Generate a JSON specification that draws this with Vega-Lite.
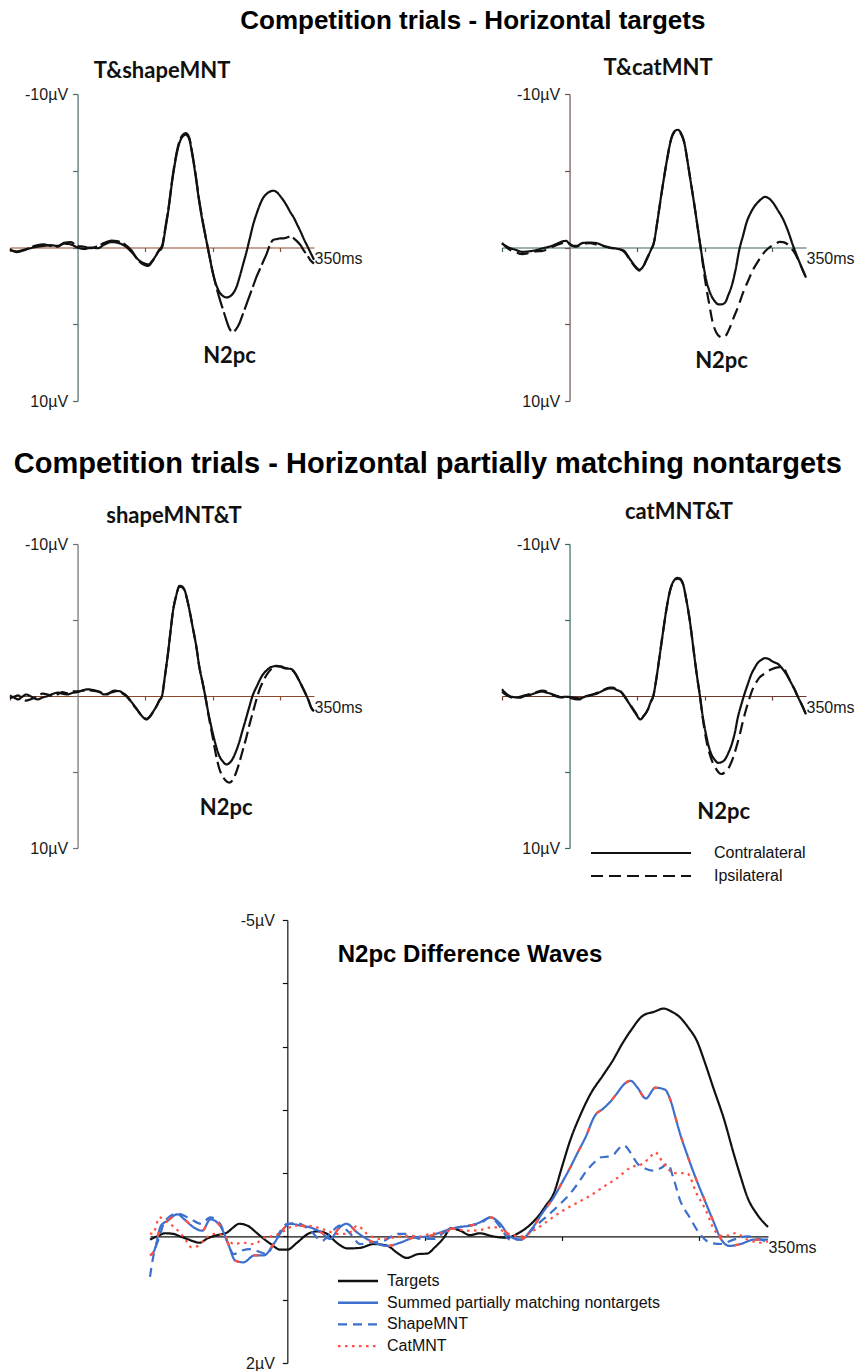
{
"$schema": "https://vega.github.io/schema/vega-lite/v6.json",
"background": "white",
"padding": {"left": 5, "top": 7, "right": 4, "bottom": 4},
"config": {
  "view": {"stroke": null},
  "axis": {"grid": false, "labelFont": "Liberation Sans", "labelFontSize": 16, "labelColor": "#1a1a1a", "domainWidth": 1.2, "tickWidth": 1.2, "labelOverlap": false, "labelFlush": false, "labelLimit": 200}
},
"datasets": {
"erp": [
{"panel":"p1","side":"Contralateral","t":-100,"v":0.15},{"panel":"p1","side":"Contralateral","t":-90,"v":0.25},{"panel":"p1","side":"Contralateral","t":-80,"v":0.15},{"panel":"p1","side":"Contralateral","t":-70,"v":0.05},{"panel":"p1","side":"Contralateral","t":-60,"v":-0.05},{"panel":"p1","side":"Contralateral","t":-50,"v":-0.1},{"panel":"p1","side":"Contralateral","t":-40,"v":-0.15},{"panel":"p1","side":"Contralateral","t":-30,"v":-0.1},{"panel":"p1","side":"Contralateral","t":-20,"v":-0.25},{"panel":"p1","side":"Contralateral","t":-10,"v":-0.2},{"panel":"p1","side":"Contralateral","t":0,"v":0.0},{"panel":"p1","side":"Contralateral","t":10,"v":0.1},{"panel":"p1","side":"Contralateral","t":20,"v":0.0},{"panel":"p1","side":"Contralateral","t":30,"v":0.05},{"panel":"p1","side":"Contralateral","t":40,"v":-0.2},{"panel":"p1","side":"Contralateral","t":50,"v":-0.35},{"panel":"p1","side":"Contralateral","t":60,"v":-0.3},{"panel":"p1","side":"Contralateral","t":70,"v":-0.1},{"panel":"p1","side":"Contralateral","t":80,"v":0.3},{"panel":"p1","side":"Contralateral","t":90,"v":0.8},{"panel":"p1","side":"Contralateral","t":100,"v":1.05},{"panel":"p1","side":"Contralateral","t":105,"v":1.1},{"panel":"p1","side":"Contralateral","t":110,"v":0.9},{"panel":"p1","side":"Contralateral","t":115,"v":0.6},{"panel":"p1","side":"Contralateral","t":120,"v":0.25},{"panel":"p1","side":"Contralateral","t":125,"v":0.0},{"panel":"p1","side":"Contralateral","t":130,"v":-1.2},{"panel":"p1","side":"Contralateral","t":135,"v":-2.6},{"panel":"p1","side":"Contralateral","t":140,"v":-4.3},{"panel":"p1","side":"Contralateral","t":145,"v":-5.7},{"panel":"p1","side":"Contralateral","t":150,"v":-6.7},{"panel":"p1","side":"Contralateral","t":155,"v":-7.2},{"panel":"p1","side":"Contralateral","t":160,"v":-7.35},{"panel":"p1","side":"Contralateral","t":165,"v":-7.1},{"panel":"p1","side":"Contralateral","t":170,"v":-6.0},{"panel":"p1","side":"Contralateral","t":175,"v":-4.6},{"panel":"p1","side":"Contralateral","t":180,"v":-3.0},{"panel":"p1","side":"Contralateral","t":185,"v":-1.7},{"panel":"p1","side":"Contralateral","t":190,"v":-0.6},{"panel":"p1","side":"Contralateral","t":195,"v":0.5},{"panel":"p1","side":"Contralateral","t":200,"v":1.6},{"panel":"p1","side":"Contralateral","t":205,"v":2.4},{"panel":"p1","side":"Contralateral","t":210,"v":2.9},{"panel":"p1","side":"Contralateral","t":215,"v":3.15},{"panel":"p1","side":"Contralateral","t":220,"v":3.25},{"panel":"p1","side":"Contralateral","t":225,"v":3.2},{"panel":"p1","side":"Contralateral","t":230,"v":3.0},{"panel":"p1","side":"Contralateral","t":235,"v":2.6},{"panel":"p1","side":"Contralateral","t":240,"v":1.9},{"panel":"p1","side":"Contralateral","t":245,"v":1.1},{"panel":"p1","side":"Contralateral","t":250,"v":0.3},{"panel":"p1","side":"Contralateral","t":255,"v":-0.6},{"panel":"p1","side":"Contralateral","t":260,"v":-1.5},{"panel":"p1","side":"Contralateral","t":265,"v":-2.2},{"panel":"p1","side":"Contralateral","t":270,"v":-2.8},{"panel":"p1","side":"Contralateral","t":275,"v":-3.25},{"panel":"p1","side":"Contralateral","t":280,"v":-3.5},{"panel":"p1","side":"Contralateral","t":285,"v":-3.65},{"panel":"p1","side":"Contralateral","t":290,"v":-3.7},{"panel":"p1","side":"Contralateral","t":295,"v":-3.6},{"panel":"p1","side":"Contralateral","t":300,"v":-3.35},{"panel":"p1","side":"Contralateral","t":305,"v":-3.05},{"panel":"p1","side":"Contralateral","t":310,"v":-2.7},{"panel":"p1","side":"Contralateral","t":315,"v":-2.3},{"panel":"p1","side":"Contralateral","t":320,"v":-1.95},{"panel":"p1","side":"Contralateral","t":325,"v":-1.5},{"panel":"p1","side":"Contralateral","t":330,"v":-1.05},{"panel":"p1","side":"Contralateral","t":335,"v":-0.55},{"panel":"p1","side":"Contralateral","t":340,"v":-0.1},{"panel":"p1","side":"Contralateral","t":345,"v":0.35},{"panel":"p1","side":"Contralateral","t":350,"v":0.8},
{"panel":"p1","side":"Ipsilateral","t":-100,"v":0.1},{"panel":"p1","side":"Ipsilateral","t":-90,"v":0.3},{"panel":"p1","side":"Ipsilateral","t":-80,"v":0.2},{"panel":"p1","side":"Ipsilateral","t":-70,"v":0.0},{"panel":"p1","side":"Ipsilateral","t":-60,"v":-0.15},{"panel":"p1","side":"Ipsilateral","t":-50,"v":-0.2},{"panel":"p1","side":"Ipsilateral","t":-40,"v":-0.1},{"panel":"p1","side":"Ipsilateral","t":-30,"v":-0.05},{"panel":"p1","side":"Ipsilateral","t":-20,"v":-0.3},{"panel":"p1","side":"Ipsilateral","t":-10,"v":-0.35},{"panel":"p1","side":"Ipsilateral","t":0,"v":-0.1},{"panel":"p1","side":"Ipsilateral","t":10,"v":-0.05},{"panel":"p1","side":"Ipsilateral","t":20,"v":0.05},{"panel":"p1","side":"Ipsilateral","t":30,"v":-0.1},{"panel":"p1","side":"Ipsilateral","t":40,"v":-0.3},{"panel":"p1","side":"Ipsilateral","t":50,"v":-0.45},{"panel":"p1","side":"Ipsilateral","t":60,"v":-0.4},{"panel":"p1","side":"Ipsilateral","t":70,"v":-0.2},{"panel":"p1","side":"Ipsilateral","t":80,"v":0.2},{"panel":"p1","side":"Ipsilateral","t":90,"v":0.85},{"panel":"p1","side":"Ipsilateral","t":100,"v":1.15},{"panel":"p1","side":"Ipsilateral","t":105,"v":1.2},{"panel":"p1","side":"Ipsilateral","t":110,"v":0.95},{"panel":"p1","side":"Ipsilateral","t":115,"v":0.6},{"panel":"p1","side":"Ipsilateral","t":120,"v":0.2},{"panel":"p1","side":"Ipsilateral","t":125,"v":-0.1},{"panel":"p1","side":"Ipsilateral","t":130,"v":-1.3},{"panel":"p1","side":"Ipsilateral","t":135,"v":-2.7},{"panel":"p1","side":"Ipsilateral","t":140,"v":-4.4},{"panel":"p1","side":"Ipsilateral","t":145,"v":-5.8},{"panel":"p1","side":"Ipsilateral","t":150,"v":-6.8},{"panel":"p1","side":"Ipsilateral","t":155,"v":-7.3},{"panel":"p1","side":"Ipsilateral","t":160,"v":-7.45},{"panel":"p1","side":"Ipsilateral","t":165,"v":-7.2},{"panel":"p1","side":"Ipsilateral","t":170,"v":-6.1},{"panel":"p1","side":"Ipsilateral","t":175,"v":-4.7},{"panel":"p1","side":"Ipsilateral","t":180,"v":-3.1},{"panel":"p1","side":"Ipsilateral","t":185,"v":-1.8},{"panel":"p1","side":"Ipsilateral","t":190,"v":-0.6},{"panel":"p1","side":"Ipsilateral","t":195,"v":0.5},{"panel":"p1","side":"Ipsilateral","t":200,"v":1.6},{"panel":"p1","side":"Ipsilateral","t":205,"v":2.5},{"panel":"p1","side":"Ipsilateral","t":210,"v":3.3},{"panel":"p1","side":"Ipsilateral","t":215,"v":4.0},{"panel":"p1","side":"Ipsilateral","t":220,"v":4.7},{"panel":"p1","side":"Ipsilateral","t":225,"v":5.3},{"panel":"p1","side":"Ipsilateral","t":230,"v":5.5},{"panel":"p1","side":"Ipsilateral","t":235,"v":5.3},{"panel":"p1","side":"Ipsilateral","t":240,"v":4.9},{"panel":"p1","side":"Ipsilateral","t":245,"v":4.3},{"panel":"p1","side":"Ipsilateral","t":250,"v":3.7},{"panel":"p1","side":"Ipsilateral","t":255,"v":3.1},{"panel":"p1","side":"Ipsilateral","t":260,"v":2.5},{"panel":"p1","side":"Ipsilateral","t":265,"v":1.9},{"panel":"p1","side":"Ipsilateral","t":270,"v":1.4},{"panel":"p1","side":"Ipsilateral","t":275,"v":0.9},{"panel":"p1","side":"Ipsilateral","t":280,"v":0.4},{"panel":"p1","side":"Ipsilateral","t":285,"v":-0.2},{"panel":"p1","side":"Ipsilateral","t":290,"v":-0.5},{"panel":"p1","side":"Ipsilateral","t":295,"v":-0.55},{"panel":"p1","side":"Ipsilateral","t":300,"v":-0.6},{"panel":"p1","side":"Ipsilateral","t":305,"v":-0.6},{"panel":"p1","side":"Ipsilateral","t":310,"v":-0.65},{"panel":"p1","side":"Ipsilateral","t":315,"v":-0.72},{"panel":"p1","side":"Ipsilateral","t":320,"v":-0.6},{"panel":"p1","side":"Ipsilateral","t":325,"v":-0.4},{"panel":"p1","side":"Ipsilateral","t":330,"v":-0.15},{"panel":"p1","side":"Ipsilateral","t":335,"v":0.2},{"panel":"p1","side":"Ipsilateral","t":340,"v":0.5},{"panel":"p1","side":"Ipsilateral","t":345,"v":0.85},{"panel":"p1","side":"Ipsilateral","t":350,"v":1.05},
{"panel":"p2","side":"Contralateral","t":-100,"v":-0.26},{"panel":"p2","side":"Contralateral","t":-90,"v":0.0},{"panel":"p2","side":"Contralateral","t":-80,"v":0.15},{"panel":"p2","side":"Contralateral","t":-70,"v":0.28},{"panel":"p2","side":"Contralateral","t":-60,"v":0.25},{"panel":"p2","side":"Contralateral","t":-50,"v":0.18},{"panel":"p2","side":"Contralateral","t":-40,"v":0.05},{"panel":"p2","side":"Contralateral","t":-30,"v":-0.05},{"panel":"p2","side":"Contralateral","t":-20,"v":-0.22},{"panel":"p2","side":"Contralateral","t":-10,"v":-0.4},{"panel":"p2","side":"Contralateral","t":-5,"v":-0.43},{"panel":"p2","side":"Contralateral","t":0,"v":-0.22},{"panel":"p2","side":"Contralateral","t":5,"v":-0.1},{"panel":"p2","side":"Contralateral","t":10,"v":-0.1},{"panel":"p2","side":"Contralateral","t":20,"v":-0.3},{"panel":"p2","side":"Contralateral","t":30,"v":-0.32},{"panel":"p2","side":"Contralateral","t":40,"v":-0.28},{"panel":"p2","side":"Contralateral","t":50,"v":-0.12},{"panel":"p2","side":"Contralateral","t":60,"v":0.0},{"panel":"p2","side":"Contralateral","t":70,"v":0.08},{"panel":"p2","side":"Contralateral","t":80,"v":0.2},{"panel":"p2","side":"Contralateral","t":90,"v":0.8},{"panel":"p2","side":"Contralateral","t":100,"v":1.35},{"panel":"p2","side":"Contralateral","t":103,"v":1.45},{"panel":"p2","side":"Contralateral","t":108,"v":1.3},{"panel":"p2","side":"Contralateral","t":114,"v":0.76},{"panel":"p2","side":"Contralateral","t":120,"v":0.2},{"panel":"p2","side":"Contralateral","t":125,"v":-0.35},{"panel":"p2","side":"Contralateral","t":130,"v":-1.7},{"panel":"p2","side":"Contralateral","t":135,"v":-3.2},{"panel":"p2","side":"Contralateral","t":140,"v":-4.6},{"panel":"p2","side":"Contralateral","t":145,"v":-5.9},{"panel":"p2","side":"Contralateral","t":150,"v":-7.0},{"panel":"p2","side":"Contralateral","t":155,"v":-7.55},{"panel":"p2","side":"Contralateral","t":160,"v":-7.67},{"panel":"p2","side":"Contralateral","t":165,"v":-7.45},{"panel":"p2","side":"Contralateral","t":170,"v":-6.8},{"panel":"p2","side":"Contralateral","t":175,"v":-5.5},{"panel":"p2","side":"Contralateral","t":180,"v":-4.1},{"panel":"p2","side":"Contralateral","t":185,"v":-2.7},{"panel":"p2","side":"Contralateral","t":190,"v":-1.2},{"panel":"p2","side":"Contralateral","t":194,"v":0.0},{"panel":"p2","side":"Contralateral","t":198,"v":1.1},{"panel":"p2","side":"Contralateral","t":202,"v":2.07},{"panel":"p2","side":"Contralateral","t":206,"v":2.7},{"panel":"p2","side":"Contralateral","t":210,"v":3.15},{"panel":"p2","side":"Contralateral","t":215,"v":3.5},{"panel":"p2","side":"Contralateral","t":220,"v":3.7},{"panel":"p2","side":"Contralateral","t":225,"v":3.7},{"panel":"p2","side":"Contralateral","t":230,"v":3.6},{"panel":"p2","side":"Contralateral","t":235,"v":3.1},{"panel":"p2","side":"Contralateral","t":240,"v":2.5},{"panel":"p2","side":"Contralateral","t":245,"v":1.6},{"panel":"p2","side":"Contralateral","t":252,"v":0.0},{"panel":"p2","side":"Contralateral","t":257,"v":-0.8},{"panel":"p2","side":"Contralateral","t":262,"v":-1.63},{"panel":"p2","side":"Contralateral","t":268,"v":-2.25},{"panel":"p2","side":"Contralateral","t":274,"v":-2.7},{"panel":"p2","side":"Contralateral","t":280,"v":-3.0},{"panel":"p2","side":"Contralateral","t":285,"v":-3.2},{"panel":"p2","side":"Contralateral","t":289,"v":-3.3},{"panel":"p2","side":"Contralateral","t":295,"v":-3.2},{"panel":"p2","side":"Contralateral","t":301,"v":-2.93},{"panel":"p2","side":"Contralateral","t":308,"v":-2.45},{"panel":"p2","side":"Contralateral","t":316,"v":-1.85},{"panel":"p2","side":"Contralateral","t":324,"v":-1.0},{"panel":"p2","side":"Contralateral","t":331,"v":-0.1},{"panel":"p2","side":"Contralateral","t":338,"v":0.7},{"panel":"p2","side":"Contralateral","t":344,"v":1.35},{"panel":"p2","side":"Contralateral","t":350,"v":1.96},
{"panel":"p2","side":"Ipsilateral","t":-100,"v":-0.3},{"panel":"p2","side":"Ipsilateral","t":-90,"v":0.1},{"panel":"p2","side":"Ipsilateral","t":-80,"v":0.3},{"panel":"p2","side":"Ipsilateral","t":-70,"v":0.43},{"panel":"p2","side":"Ipsilateral","t":-60,"v":0.35},{"panel":"p2","side":"Ipsilateral","t":-50,"v":0.25},{"panel":"p2","side":"Ipsilateral","t":-40,"v":0.22},{"panel":"p2","side":"Ipsilateral","t":-30,"v":0.05},{"panel":"p2","side":"Ipsilateral","t":-20,"v":-0.15},{"panel":"p2","side":"Ipsilateral","t":-10,"v":-0.3},{"panel":"p2","side":"Ipsilateral","t":-5,"v":-0.35},{"panel":"p2","side":"Ipsilateral","t":0,"v":-0.25},{"panel":"p2","side":"Ipsilateral","t":5,"v":-0.1},{"panel":"p2","side":"Ipsilateral","t":10,"v":-0.05},{"panel":"p2","side":"Ipsilateral","t":20,"v":-0.25},{"panel":"p2","side":"Ipsilateral","t":30,"v":-0.28},{"panel":"p2","side":"Ipsilateral","t":40,"v":-0.2},{"panel":"p2","side":"Ipsilateral","t":50,"v":-0.08},{"panel":"p2","side":"Ipsilateral","t":60,"v":0.02},{"panel":"p2","side":"Ipsilateral","t":70,"v":0.1},{"panel":"p2","side":"Ipsilateral","t":80,"v":0.25},{"panel":"p2","side":"Ipsilateral","t":90,"v":0.85},{"panel":"p2","side":"Ipsilateral","t":100,"v":1.4},{"panel":"p2","side":"Ipsilateral","t":103,"v":1.5},{"panel":"p2","side":"Ipsilateral","t":108,"v":1.32},{"panel":"p2","side":"Ipsilateral","t":114,"v":0.8},{"panel":"p2","side":"Ipsilateral","t":120,"v":0.2},{"panel":"p2","side":"Ipsilateral","t":125,"v":-0.35},{"panel":"p2","side":"Ipsilateral","t":130,"v":-1.7},{"panel":"p2","side":"Ipsilateral","t":135,"v":-3.2},{"panel":"p2","side":"Ipsilateral","t":140,"v":-4.6},{"panel":"p2","side":"Ipsilateral","t":145,"v":-5.9},{"panel":"p2","side":"Ipsilateral","t":150,"v":-7.0},{"panel":"p2","side":"Ipsilateral","t":155,"v":-7.5},{"panel":"p2","side":"Ipsilateral","t":160,"v":-7.6},{"panel":"p2","side":"Ipsilateral","t":165,"v":-7.4},{"panel":"p2","side":"Ipsilateral","t":170,"v":-6.8},{"panel":"p2","side":"Ipsilateral","t":175,"v":-5.5},{"panel":"p2","side":"Ipsilateral","t":180,"v":-4.1},{"panel":"p2","side":"Ipsilateral","t":185,"v":-2.7},{"panel":"p2","side":"Ipsilateral","t":190,"v":-1.2},{"panel":"p2","side":"Ipsilateral","t":194,"v":0.0},{"panel":"p2","side":"Ipsilateral","t":198,"v":1.3},{"panel":"p2","side":"Ipsilateral","t":202,"v":2.5},{"panel":"p2","side":"Ipsilateral","t":206,"v":3.5},{"panel":"p2","side":"Ipsilateral","t":212,"v":4.9},{"panel":"p2","side":"Ipsilateral","t":218,"v":5.6},{"panel":"p2","side":"Ipsilateral","t":222,"v":5.8},{"panel":"p2","side":"Ipsilateral","t":227,"v":5.87},{"panel":"p2","side":"Ipsilateral","t":232,"v":5.7},{"panel":"p2","side":"Ipsilateral","t":237,"v":5.25},{"panel":"p2","side":"Ipsilateral","t":242,"v":4.67},{"panel":"p2","side":"Ipsilateral","t":250,"v":3.8},{"panel":"p2","side":"Ipsilateral","t":257,"v":2.93},{"panel":"p2","side":"Ipsilateral","t":265,"v":2.1},{"panel":"p2","side":"Ipsilateral","t":272,"v":1.41},{"panel":"p2","side":"Ipsilateral","t":279,"v":0.9},{"panel":"p2","side":"Ipsilateral","t":286,"v":0.43},{"panel":"p2","side":"Ipsilateral","t":293,"v":0.1},{"panel":"p2","side":"Ipsilateral","t":299,"v":-0.1},{"panel":"p2","side":"Ipsilateral","t":305,"v":-0.25},{"panel":"p2","side":"Ipsilateral","t":311,"v":-0.37},{"panel":"p2","side":"Ipsilateral","t":316,"v":-0.35},{"panel":"p2","side":"Ipsilateral","t":321,"v":-0.26},{"panel":"p2","side":"Ipsilateral","t":327,"v":0.0},{"panel":"p2","side":"Ipsilateral","t":333,"v":0.33},{"panel":"p2","side":"Ipsilateral","t":340,"v":0.95},{"panel":"p2","side":"Ipsilateral","t":345,"v":1.45},{"panel":"p2","side":"Ipsilateral","t":350,"v":1.96},
{"panel":"p3","side":"Contralateral","t":-100,"v":-0.04},{"panel":"p3","side":"Contralateral","t":-94,"v":0.1},{"panel":"p3","side":"Contralateral","t":-88,"v":0.22},{"panel":"p3","side":"Contralateral","t":-82,"v":0.05},{"panel":"p3","side":"Contralateral","t":-76,"v":-0.1},{"panel":"p3","side":"Contralateral","t":-68,"v":0.05},{"panel":"p3","side":"Contralateral","t":-59,"v":0.22},{"panel":"p3","side":"Contralateral","t":-52,"v":0.1},{"panel":"p3","side":"Contralateral","t":-44,"v":0.0},{"panel":"p3","side":"Contralateral","t":-36,"v":-0.15},{"panel":"p3","side":"Contralateral","t":-29,"v":-0.22},{"panel":"p3","side":"Contralateral","t":-22,"v":-0.15},{"panel":"p3","side":"Contralateral","t":-15,"v":-0.1},{"panel":"p3","side":"Contralateral","t":-8,"v":-0.2},{"panel":"p3","side":"Contralateral","t":0,"v":-0.26},{"panel":"p3","side":"Contralateral","t":8,"v":-0.38},{"panel":"p3","side":"Contralateral","t":15,"v":-0.44},{"panel":"p3","side":"Contralateral","t":22,"v":-0.4},{"panel":"p3","side":"Contralateral","t":29,"v":-0.33},{"panel":"p3","side":"Contralateral","t":35,"v":-0.2},{"panel":"p3","side":"Contralateral","t":39,"v":-0.1},{"panel":"p3","side":"Contralateral","t":44,"v":-0.15},{"panel":"p3","side":"Contralateral","t":49,"v":-0.22},{"panel":"p3","side":"Contralateral","t":55,"v":-0.3},{"panel":"p3","side":"Contralateral","t":61,"v":-0.33},{"panel":"p3","side":"Contralateral","t":67,"v":-0.2},{"panel":"p3","side":"Contralateral","t":73,"v":0.0},{"panel":"p3","side":"Contralateral","t":80,"v":0.4},{"panel":"p3","side":"Contralateral","t":88,"v":0.88},{"panel":"p3","side":"Contralateral","t":95,"v":1.3},{"panel":"p3","side":"Contralateral","t":102,"v":1.54},{"panel":"p3","side":"Contralateral","t":108,"v":1.3},{"panel":"p3","side":"Contralateral","t":113,"v":0.95},{"panel":"p3","side":"Contralateral","t":117,"v":0.66},{"panel":"p3","side":"Contralateral","t":121,"v":0.3},{"panel":"p3","side":"Contralateral","t":125,"v":0.0},{"panel":"p3","side":"Contralateral","t":129,"v":-1.2},{"panel":"p3","side":"Contralateral","t":134,"v":-2.86},{"panel":"p3","side":"Contralateral","t":138,"v":-4.4},{"panel":"p3","side":"Contralateral","t":141,"v":-5.5},{"panel":"p3","side":"Contralateral","t":146,"v":-6.6},{"panel":"p3","side":"Contralateral","t":151,"v":-7.25},{"panel":"p3","side":"Contralateral","t":155,"v":-7.2},{"panel":"p3","side":"Contralateral","t":159,"v":-6.9},{"panel":"p3","side":"Contralateral","t":164,"v":-6.0},{"panel":"p3","side":"Contralateral","t":171,"v":-4.4},{"panel":"p3","side":"Contralateral","t":176,"v":-3.2},{"panel":"p3","side":"Contralateral","t":180,"v":-1.98},{"panel":"p3","side":"Contralateral","t":185,"v":-0.9},{"panel":"p3","side":"Contralateral","t":189,"v":0.0},{"panel":"p3","side":"Contralateral","t":194,"v":1.2},{"panel":"p3","side":"Contralateral","t":200,"v":2.42},{"panel":"p3","side":"Contralateral","t":205,"v":3.3},{"panel":"p3","side":"Contralateral","t":210,"v":3.96},{"panel":"p3","side":"Contralateral","t":215,"v":4.3},{"panel":"p3","side":"Contralateral","t":220,"v":4.5},{"panel":"p3","side":"Contralateral","t":225,"v":4.4},{"panel":"p3","side":"Contralateral","t":229,"v":4.18},{"panel":"p3","side":"Contralateral","t":234,"v":3.7},{"panel":"p3","side":"Contralateral","t":239,"v":3.08},{"panel":"p3","side":"Contralateral","t":244,"v":2.3},{"panel":"p3","side":"Contralateral","t":249,"v":1.54},{"panel":"p3","side":"Contralateral","t":254,"v":0.75},{"panel":"p3","side":"Contralateral","t":259,"v":0.0},{"panel":"p3","side":"Contralateral","t":266,"v":-0.7},{"panel":"p3","side":"Contralateral","t":273,"v":-1.32},{"panel":"p3","side":"Contralateral","t":279,"v":-1.65},{"panel":"p3","side":"Contralateral","t":285,"v":-1.87},{"panel":"p3","side":"Contralateral","t":290,"v":-1.95},{"panel":"p3","side":"Contralateral","t":295,"v":-1.98},{"panel":"p3","side":"Contralateral","t":301,"v":-1.92},{"panel":"p3","side":"Contralateral","t":307,"v":-1.82},{"panel":"p3","side":"Contralateral","t":312,"v":-1.8},{"panel":"p3","side":"Contralateral","t":317,"v":-1.76},{"panel":"p3","side":"Contralateral","t":322,"v":-1.5},{"panel":"p3","side":"Contralateral","t":327,"v":-1.1},{"panel":"p3","side":"Contralateral","t":332,"v":-0.66},{"panel":"p3","side":"Contralateral","t":337,"v":-0.2},{"panel":"p3","side":"Contralateral","t":342,"v":0.3},{"panel":"p3","side":"Contralateral","t":346,"v":0.77},{"panel":"p3","side":"Contralateral","t":350,"v":1.0},
{"panel":"p3","side":"Ipsilateral","t":-100,"v":0.15},{"panel":"p3","side":"Ipsilateral","t":-94,"v":0.05},{"panel":"p3","side":"Ipsilateral","t":-88,"v":-0.05},{"panel":"p3","side":"Ipsilateral","t":-82,"v":0.15},{"panel":"p3","side":"Ipsilateral","t":-76,"v":0.3},{"panel":"p3","side":"Ipsilateral","t":-68,"v":0.2},{"panel":"p3","side":"Ipsilateral","t":-59,"v":0.0},{"panel":"p3","side":"Ipsilateral","t":-52,"v":-0.15},{"panel":"p3","side":"Ipsilateral","t":-44,"v":-0.1},{"panel":"p3","side":"Ipsilateral","t":-36,"v":0.0},{"panel":"p3","side":"Ipsilateral","t":-29,"v":-0.12},{"panel":"p3","side":"Ipsilateral","t":-22,"v":-0.25},{"panel":"p3","side":"Ipsilateral","t":-15,"v":-0.18},{"panel":"p3","side":"Ipsilateral","t":-8,"v":-0.3},{"panel":"p3","side":"Ipsilateral","t":0,"v":-0.3},{"panel":"p3","side":"Ipsilateral","t":8,"v":-0.35},{"panel":"p3","side":"Ipsilateral","t":15,"v":-0.4},{"panel":"p3","side":"Ipsilateral","t":22,"v":-0.35},{"panel":"p3","side":"Ipsilateral","t":29,"v":-0.3},{"panel":"p3","side":"Ipsilateral","t":35,"v":-0.25},{"panel":"p3","side":"Ipsilateral","t":39,"v":-0.15},{"panel":"p3","side":"Ipsilateral","t":44,"v":-0.1},{"panel":"p3","side":"Ipsilateral","t":49,"v":-0.25},{"panel":"p3","side":"Ipsilateral","t":55,"v":-0.35},{"panel":"p3","side":"Ipsilateral","t":61,"v":-0.3},{"panel":"p3","side":"Ipsilateral","t":67,"v":-0.15},{"panel":"p3","side":"Ipsilateral","t":73,"v":0.05},{"panel":"p3","side":"Ipsilateral","t":80,"v":0.45},{"panel":"p3","side":"Ipsilateral","t":88,"v":0.9},{"panel":"p3","side":"Ipsilateral","t":95,"v":1.3},{"panel":"p3","side":"Ipsilateral","t":102,"v":1.5},{"panel":"p3","side":"Ipsilateral","t":108,"v":1.3},{"panel":"p3","side":"Ipsilateral","t":113,"v":0.95},{"panel":"p3","side":"Ipsilateral","t":117,"v":0.66},{"panel":"p3","side":"Ipsilateral","t":121,"v":0.3},{"panel":"p3","side":"Ipsilateral","t":125,"v":0.0},{"panel":"p3","side":"Ipsilateral","t":129,"v":-1.2},{"panel":"p3","side":"Ipsilateral","t":134,"v":-2.86},{"panel":"p3","side":"Ipsilateral","t":138,"v":-4.4},{"panel":"p3","side":"Ipsilateral","t":141,"v":-5.5},{"panel":"p3","side":"Ipsilateral","t":146,"v":-6.6},{"panel":"p3","side":"Ipsilateral","t":151,"v":-7.2},{"panel":"p3","side":"Ipsilateral","t":155,"v":-7.15},{"panel":"p3","side":"Ipsilateral","t":159,"v":-6.85},{"panel":"p3","side":"Ipsilateral","t":164,"v":-6.0},{"panel":"p3","side":"Ipsilateral","t":171,"v":-4.4},{"panel":"p3","side":"Ipsilateral","t":176,"v":-3.2},{"panel":"p3","side":"Ipsilateral","t":180,"v":-1.98},{"panel":"p3","side":"Ipsilateral","t":185,"v":-0.9},{"panel":"p3","side":"Ipsilateral","t":189,"v":0.0},{"panel":"p3","side":"Ipsilateral","t":194,"v":1.3},{"panel":"p3","side":"Ipsilateral","t":200,"v":2.7},{"panel":"p3","side":"Ipsilateral","t":205,"v":3.9},{"panel":"p3","side":"Ipsilateral","t":210,"v":4.8},{"panel":"p3","side":"Ipsilateral","t":215,"v":5.3},{"panel":"p3","side":"Ipsilateral","t":220,"v":5.6},{"panel":"p3","side":"Ipsilateral","t":225,"v":5.7},{"panel":"p3","side":"Ipsilateral","t":230,"v":5.5},{"panel":"p3","side":"Ipsilateral","t":235,"v":5.0},{"panel":"p3","side":"Ipsilateral","t":240,"v":4.3},{"panel":"p3","side":"Ipsilateral","t":245,"v":3.5},{"panel":"p3","side":"Ipsilateral","t":250,"v":2.7},{"panel":"p3","side":"Ipsilateral","t":255,"v":1.8},{"panel":"p3","side":"Ipsilateral","t":260,"v":1.0},{"panel":"p3","side":"Ipsilateral","t":265,"v":0.2},{"panel":"p3","side":"Ipsilateral","t":270,"v":-0.5},{"panel":"p3","side":"Ipsilateral","t":275,"v":-1.0},{"panel":"p3","side":"Ipsilateral","t":280,"v":-1.4},{"panel":"p3","side":"Ipsilateral","t":285,"v":-1.7},{"panel":"p3","side":"Ipsilateral","t":290,"v":-1.85},{"panel":"p3","side":"Ipsilateral","t":295,"v":-1.95},{"panel":"p3","side":"Ipsilateral","t":301,"v":-1.95},{"panel":"p3","side":"Ipsilateral","t":307,"v":-1.85},{"panel":"p3","side":"Ipsilateral","t":312,"v":-1.8},{"panel":"p3","side":"Ipsilateral","t":317,"v":-1.72},{"panel":"p3","side":"Ipsilateral","t":322,"v":-1.5},{"panel":"p3","side":"Ipsilateral","t":327,"v":-1.1},{"panel":"p3","side":"Ipsilateral","t":332,"v":-0.66},{"panel":"p3","side":"Ipsilateral","t":337,"v":-0.2},{"panel":"p3","side":"Ipsilateral","t":342,"v":0.3},{"panel":"p3","side":"Ipsilateral","t":346,"v":0.77},{"panel":"p3","side":"Ipsilateral","t":350,"v":1.0},
{"panel":"p4","side":"Contralateral","t":-100,"v":-0.44},{"panel":"p4","side":"Contralateral","t":-95,"v":-0.2},{"panel":"p4","side":"Contralateral","t":-89,"v":0.0},{"panel":"p4","side":"Contralateral","t":-82,"v":0.08},{"panel":"p4","side":"Contralateral","t":-74,"v":0.11},{"panel":"p4","side":"Contralateral","t":-66,"v":0.0},{"panel":"p4","side":"Contralateral","t":-59,"v":-0.07},{"panel":"p4","side":"Contralateral","t":-50,"v":-0.2},{"panel":"p4","side":"Contralateral","t":-40,"v":-0.29},{"panel":"p4","side":"Contralateral","t":-32,"v":-0.2},{"panel":"p4","side":"Contralateral","t":-25,"v":-0.11},{"panel":"p4","side":"Contralateral","t":-18,"v":0.0},{"panel":"p4","side":"Contralateral","t":-12,"v":0.07},{"panel":"p4","side":"Contralateral","t":-6,"v":0.05},{"panel":"p4","side":"Contralateral","t":0,"v":0.07},{"panel":"p4","side":"Contralateral","t":8,"v":0.12},{"panel":"p4","side":"Contralateral","t":15,"v":0.15},{"panel":"p4","side":"Contralateral","t":20,"v":0.1},{"panel":"p4","side":"Contralateral","t":25,"v":0.0},{"panel":"p4","side":"Contralateral","t":32,"v":-0.08},{"panel":"p4","side":"Contralateral","t":40,"v":-0.15},{"panel":"p4","side":"Contralateral","t":47,"v":-0.3},{"panel":"p4","side":"Contralateral","t":54,"v":-0.44},{"panel":"p4","side":"Contralateral","t":60,"v":-0.5},{"panel":"p4","side":"Contralateral","t":64,"v":-0.5},{"panel":"p4","side":"Contralateral","t":70,"v":-0.4},{"panel":"p4","side":"Contralateral","t":77,"v":-0.22},{"panel":"p4","side":"Contralateral","t":83,"v":0.15},{"panel":"p4","side":"Contralateral","t":89,"v":0.55},{"panel":"p4","side":"Contralateral","t":97,"v":1.1},{"panel":"p4","side":"Contralateral","t":105,"v":1.54},{"panel":"p4","side":"Contralateral","t":110,"v":1.3},{"panel":"p4","side":"Contralateral","t":116,"v":0.88},{"panel":"p4","side":"Contralateral","t":120,"v":0.4},{"panel":"p4","side":"Contralateral","t":124,"v":0.0},{"panel":"p4","side":"Contralateral","t":128,"v":-1.0},{"panel":"p4","side":"Contralateral","t":133,"v":-2.53},{"panel":"p4","side":"Contralateral","t":138,"v":-4.1},{"panel":"p4","side":"Contralateral","t":143,"v":-5.6},{"panel":"p4","side":"Contralateral","t":148,"v":-6.8},{"panel":"p4","side":"Contralateral","t":153,"v":-7.48},{"panel":"p4","side":"Contralateral","t":160,"v":-7.77},{"panel":"p4","side":"Contralateral","t":164,"v":-7.7},{"panel":"p4","side":"Contralateral","t":168,"v":-7.37},{"panel":"p4","side":"Contralateral","t":173,"v":-6.3},{"panel":"p4","side":"Contralateral","t":178,"v":-4.95},{"panel":"p4","side":"Contralateral","t":182,"v":-3.6},{"panel":"p4","side":"Contralateral","t":185,"v":-2.53},{"panel":"p4","side":"Contralateral","t":189,"v":-1.2},{"panel":"p4","side":"Contralateral","t":193,"v":0.0},{"panel":"p4","side":"Contralateral","t":197,"v":1.3},{"panel":"p4","side":"Contralateral","t":202,"v":2.53},{"panel":"p4","side":"Contralateral","t":206,"v":3.3},{"panel":"p4","side":"Contralateral","t":210,"v":3.85},{"panel":"p4","side":"Contralateral","t":215,"v":4.2},{"panel":"p4","side":"Contralateral","t":220,"v":4.4},{"panel":"p4","side":"Contralateral","t":225,"v":4.35},{"panel":"p4","side":"Contralateral","t":230,"v":4.18},{"panel":"p4","side":"Contralateral","t":235,"v":3.75},{"panel":"p4","side":"Contralateral","t":240,"v":3.19},{"panel":"p4","side":"Contralateral","t":245,"v":2.35},{"panel":"p4","side":"Contralateral","t":249,"v":1.43},{"panel":"p4","side":"Contralateral","t":254,"v":0.6},{"panel":"p4","side":"Contralateral","t":258,"v":0.0},{"panel":"p4","side":"Contralateral","t":264,"v":-0.8},{"panel":"p4","side":"Contralateral","t":269,"v":-1.43},{"panel":"p4","side":"Contralateral","t":274,"v":-1.85},{"panel":"p4","side":"Contralateral","t":279,"v":-2.2},{"panel":"p4","side":"Contralateral","t":284,"v":-2.38},{"panel":"p4","side":"Contralateral","t":289,"v":-2.49},{"panel":"p4","side":"Contralateral","t":294,"v":-2.45},{"panel":"p4","side":"Contralateral","t":299,"v":-2.31},{"panel":"p4","side":"Contralateral","t":304,"v":-2.2},{"panel":"p4","side":"Contralateral","t":309,"v":-2.09},{"panel":"p4","side":"Contralateral","t":315,"v":-1.8},{"panel":"p4","side":"Contralateral","t":321,"v":-1.43},{"panel":"p4","side":"Contralateral","t":327,"v":-0.95},{"panel":"p4","side":"Contralateral","t":333,"v":-0.44},{"panel":"p4","side":"Contralateral","t":338,"v":0.05},{"panel":"p4","side":"Contralateral","t":344,"v":0.6},{"panel":"p4","side":"Contralateral","t":350,"v":1.21},
{"panel":"p4","side":"Ipsilateral","t":-100,"v":-0.3},{"panel":"p4","side":"Ipsilateral","t":-95,"v":-0.1},{"panel":"p4","side":"Ipsilateral","t":-89,"v":0.05},{"panel":"p4","side":"Ipsilateral","t":-82,"v":0.12},{"panel":"p4","side":"Ipsilateral","t":-74,"v":0.05},{"panel":"p4","side":"Ipsilateral","t":-66,"v":-0.05},{"panel":"p4","side":"Ipsilateral","t":-59,"v":-0.12},{"panel":"p4","side":"Ipsilateral","t":-50,"v":-0.25},{"panel":"p4","side":"Ipsilateral","t":-40,"v":-0.35},{"panel":"p4","side":"Ipsilateral","t":-32,"v":-0.25},{"panel":"p4","side":"Ipsilateral","t":-25,"v":-0.05},{"panel":"p4","side":"Ipsilateral","t":-18,"v":0.05},{"panel":"p4","side":"Ipsilateral","t":-12,"v":0.1},{"panel":"p4","side":"Ipsilateral","t":-6,"v":0.1},{"panel":"p4","side":"Ipsilateral","t":0,"v":0.12},{"panel":"p4","side":"Ipsilateral","t":8,"v":0.2},{"panel":"p4","side":"Ipsilateral","t":15,"v":0.22},{"panel":"p4","side":"Ipsilateral","t":20,"v":0.15},{"panel":"p4","side":"Ipsilateral","t":25,"v":0.05},{"panel":"p4","side":"Ipsilateral","t":32,"v":-0.05},{"panel":"p4","side":"Ipsilateral","t":40,"v":-0.2},{"panel":"p4","side":"Ipsilateral","t":47,"v":-0.35},{"panel":"p4","side":"Ipsilateral","t":54,"v":-0.48},{"panel":"p4","side":"Ipsilateral","t":60,"v":-0.55},{"panel":"p4","side":"Ipsilateral","t":64,"v":-0.55},{"panel":"p4","side":"Ipsilateral","t":70,"v":-0.42},{"panel":"p4","side":"Ipsilateral","t":77,"v":-0.25},{"panel":"p4","side":"Ipsilateral","t":83,"v":0.12},{"panel":"p4","side":"Ipsilateral","t":89,"v":0.5},{"panel":"p4","side":"Ipsilateral","t":97,"v":1.05},{"panel":"p4","side":"Ipsilateral","t":105,"v":1.5},{"panel":"p4","side":"Ipsilateral","t":110,"v":1.3},{"panel":"p4","side":"Ipsilateral","t":116,"v":0.88},{"panel":"p4","side":"Ipsilateral","t":120,"v":0.4},{"panel":"p4","side":"Ipsilateral","t":124,"v":0.0},{"panel":"p4","side":"Ipsilateral","t":128,"v":-1.0},{"panel":"p4","side":"Ipsilateral","t":133,"v":-2.53},{"panel":"p4","side":"Ipsilateral","t":138,"v":-4.1},{"panel":"p4","side":"Ipsilateral","t":143,"v":-5.6},{"panel":"p4","side":"Ipsilateral","t":148,"v":-6.8},{"panel":"p4","side":"Ipsilateral","t":153,"v":-7.45},{"panel":"p4","side":"Ipsilateral","t":160,"v":-7.72},{"panel":"p4","side":"Ipsilateral","t":164,"v":-7.65},{"panel":"p4","side":"Ipsilateral","t":168,"v":-7.35},{"panel":"p4","side":"Ipsilateral","t":173,"v":-6.3},{"panel":"p4","side":"Ipsilateral","t":178,"v":-4.95},{"panel":"p4","side":"Ipsilateral","t":182,"v":-3.6},{"panel":"p4","side":"Ipsilateral","t":185,"v":-2.53},{"panel":"p4","side":"Ipsilateral","t":189,"v":-1.2},{"panel":"p4","side":"Ipsilateral","t":193,"v":0.0},{"panel":"p4","side":"Ipsilateral","t":197,"v":1.4},{"panel":"p4","side":"Ipsilateral","t":202,"v":2.8},{"panel":"p4","side":"Ipsilateral","t":206,"v":3.6},{"panel":"p4","side":"Ipsilateral","t":212,"v":4.4},{"panel":"p4","side":"Ipsilateral","t":217,"v":4.8},{"panel":"p4","side":"Ipsilateral","t":221,"v":5.05},{"panel":"p4","side":"Ipsilateral","t":225,"v":5.13},{"panel":"p4","side":"Ipsilateral","t":229,"v":5.05},{"panel":"p4","side":"Ipsilateral","t":232,"v":4.95},{"panel":"p4","side":"Ipsilateral","t":237,"v":4.6},{"panel":"p4","side":"Ipsilateral","t":242,"v":4.07},{"panel":"p4","side":"Ipsilateral","t":247,"v":3.35},{"panel":"p4","side":"Ipsilateral","t":252,"v":2.53},{"panel":"p4","side":"Ipsilateral","t":257,"v":1.6},{"panel":"p4","side":"Ipsilateral","t":262,"v":0.77},{"panel":"p4","side":"Ipsilateral","t":267,"v":0.05},{"panel":"p4","side":"Ipsilateral","t":272,"v":-0.55},{"panel":"p4","side":"Ipsilateral","t":277,"v":-0.95},{"panel":"p4","side":"Ipsilateral","t":281,"v":-1.21},{"panel":"p4","side":"Ipsilateral","t":288,"v":-1.45},{"panel":"p4","side":"Ipsilateral","t":294,"v":-1.65},{"panel":"p4","side":"Ipsilateral","t":300,"v":-1.78},{"panel":"p4","side":"Ipsilateral","t":306,"v":-1.87},{"panel":"p4","side":"Ipsilateral","t":311,"v":-1.9},{"panel":"p4","side":"Ipsilateral","t":316,"v":-1.91},{"panel":"p4","side":"Ipsilateral","t":321,"v":-1.5},{"panel":"p4","side":"Ipsilateral","t":327,"v":-0.95},{"panel":"p4","side":"Ipsilateral","t":333,"v":-0.44},{"panel":"p4","side":"Ipsilateral","t":338,"v":0.05},{"panel":"p4","side":"Ipsilateral","t":344,"v":0.6},{"panel":"p4","side":"Ipsilateral","t":350,"v":1.21}
],
"diff": [
{"series":"Targets","t":-100,"v":0.05},{"series":"Targets","t":-95,"v":0.0},{"series":"Targets","t":-89,"v":-0.05},{"series":"Targets","t":-83,"v":-0.04},{"series":"Targets","t":-78,"v":0.0},{"series":"Targets","t":-73,"v":0.04},{"series":"Targets","t":-68,"v":0.08},{"series":"Targets","t":-64,"v":0.1},{"series":"Targets","t":-58,"v":0.03},{"series":"Targets","t":-53,"v":-0.01},{"series":"Targets","t":-49,"v":-0.03},{"series":"Targets","t":-44,"v":-0.06},{"series":"Targets","t":-40,"v":-0.13},{"series":"Targets","t":-35,"v":-0.2},{"series":"Targets","t":-29,"v":-0.17},{"series":"Targets","t":-22,"v":-0.05},{"series":"Targets","t":-17,"v":0.04},{"series":"Targets","t":-12,"v":0.12},{"series":"Targets","t":-5,"v":0.21},{"series":"Targets","t":0,"v":0.21},{"series":"Targets","t":7,"v":0.1},{"series":"Targets","t":15,"v":-0.04},{"series":"Targets","t":22,"v":-0.08},{"series":"Targets","t":29,"v":-0.04},{"series":"Targets","t":36,"v":0.1},{"series":"Targets","t":44,"v":0.19},{"series":"Targets","t":53,"v":0.18},{"series":"Targets","t":63,"v":0.12},{"series":"Targets","t":73,"v":0.15},{"series":"Targets","t":80,"v":0.26},{"series":"Targets","t":87,"v":0.34},{"series":"Targets","t":95,"v":0.28},{"series":"Targets","t":102,"v":0.27},{"series":"Targets","t":107,"v":0.18},{"series":"Targets","t":114,"v":0.02},{"series":"Targets","t":119,"v":-0.13},{"series":"Targets","t":126,"v":-0.09},{"series":"Targets","t":133,"v":-0.02},{"series":"Targets","t":140,"v":-0.05},{"series":"Targets","t":150,"v":0.0},{"series":"Targets","t":160,"v":0.02},{"series":"Targets","t":168,"v":-0.05},{"series":"Targets","t":175,"v":-0.15},{"series":"Targets","t":182,"v":-0.3},{"series":"Targets","t":188,"v":-0.48},{"series":"Targets","t":194,"v":-0.68},{"series":"Targets","t":200,"v":-1.1},{"series":"Targets","t":206,"v":-1.52},{"series":"Targets","t":213,"v":-1.9},{"series":"Targets","t":221,"v":-2.26},{"series":"Targets","t":230,"v":-2.55},{"series":"Targets","t":237,"v":-2.78},{"series":"Targets","t":244,"v":-3.05},{"series":"Targets","t":250,"v":-3.25},{"series":"Targets","t":259,"v":-3.49},{"series":"Targets","t":267,"v":-3.55},{"series":"Targets","t":274,"v":-3.6},{"series":"Targets","t":280,"v":-3.55},{"series":"Targets","t":286,"v":-3.46},{"series":"Targets","t":292,"v":-3.3},{"series":"Targets","t":298,"v":-3.1},{"series":"Targets","t":304,"v":-2.75},{"series":"Targets","t":310,"v":-2.36},{"series":"Targets","t":318,"v":-1.85},{"series":"Targets","t":325,"v":-1.31},{"series":"Targets","t":330,"v":-0.95},{"series":"Targets","t":335,"v":-0.62},{"series":"Targets","t":342,"v":-0.35},{"series":"Targets","t":350,"v":-0.15},
{"series":"Summed partially matching nontargets","t":-100,"v":0.3},{"series":"Summed partially matching nontargets","t":-97,"v":0.23},{"series":"Summed partially matching nontargets","t":-92,"v":-0.17},{"series":"Summed partially matching nontargets","t":-87,"v":-0.25},{"series":"Summed partially matching nontargets","t":-80,"v":-0.35},{"series":"Summed partially matching nontargets","t":-75,"v":-0.27},{"series":"Summed partially matching nontargets","t":-68,"v":-0.14},{"series":"Summed partially matching nontargets","t":-62,"v":-0.09},{"series":"Summed partially matching nontargets","t":-56,"v":-0.27},{"series":"Summed partially matching nontargets","t":-49,"v":-0.17},{"series":"Summed partially matching nontargets","t":-43,"v":0.12},{"series":"Summed partially matching nontargets","t":-38,"v":0.38},{"series":"Summed partially matching nontargets","t":-32,"v":0.41},{"series":"Summed partially matching nontargets","t":-24,"v":0.3},{"series":"Summed partially matching nontargets","t":-17,"v":0.3},{"series":"Summed partially matching nontargets","t":-10,"v":0.12},{"series":"Summed partially matching nontargets","t":-2,"v":-0.14},{"series":"Summed partially matching nontargets","t":2,"v":-0.2},{"series":"Summed partially matching nontargets","t":10,"v":-0.17},{"series":"Summed partially matching nontargets","t":17,"v":-0.14},{"series":"Summed partially matching nontargets","t":25,"v":-0.06},{"series":"Summed partially matching nontargets","t":31,"v":0.04},{"series":"Summed partially matching nontargets","t":38,"v":-0.14},{"series":"Summed partially matching nontargets","t":43,"v":-0.2},{"series":"Summed partially matching nontargets","t":51,"v":-0.06},{"series":"Summed partially matching nontargets","t":58,"v":0.04},{"series":"Summed partially matching nontargets","t":66,"v":0.12},{"series":"Summed partially matching nontargets","t":73,"v":0.15},{"series":"Summed partially matching nontargets","t":82,"v":0.1},{"series":"Summed partially matching nontargets","t":92,"v":0.02},{"series":"Summed partially matching nontargets","t":102,"v":0.0},{"series":"Summed partially matching nontargets","t":111,"v":-0.06},{"series":"Summed partially matching nontargets","t":119,"v":-0.12},{"series":"Summed partially matching nontargets","t":126,"v":-0.15},{"series":"Summed partially matching nontargets","t":133,"v":-0.17},{"series":"Summed partially matching nontargets","t":140,"v":-0.22},{"series":"Summed partially matching nontargets","t":148,"v":-0.3},{"series":"Summed partially matching nontargets","t":155,"v":-0.2},{"series":"Summed partially matching nontargets","t":162,"v":0.0},{"series":"Summed partially matching nontargets","t":170,"v":0.05},{"series":"Summed partially matching nontargets","t":178,"v":-0.12},{"series":"Summed partially matching nontargets","t":186,"v":-0.38},{"series":"Summed partially matching nontargets","t":194,"v":-0.62},{"series":"Summed partially matching nontargets","t":200,"v":-0.85},{"series":"Summed partially matching nontargets","t":206,"v":-1.09},{"series":"Summed partially matching nontargets","t":212,"v":-1.35},{"series":"Summed partially matching nontargets","t":217,"v":-1.56},{"series":"Summed partially matching nontargets","t":224,"v":-1.91},{"series":"Summed partially matching nontargets","t":230,"v":-2.02},{"series":"Summed partially matching nontargets","t":236,"v":-2.15},{"series":"Summed partially matching nontargets","t":240,"v":-2.26},{"series":"Summed partially matching nontargets","t":245,"v":-2.4},{"series":"Summed partially matching nontargets","t":250,"v":-2.46},{"series":"Summed partially matching nontargets","t":255,"v":-2.35},{"series":"Summed partially matching nontargets","t":261,"v":-2.18},{"series":"Summed partially matching nontargets","t":268,"v":-2.35},{"series":"Summed partially matching nontargets","t":275,"v":-2.32},{"series":"Summed partially matching nontargets","t":279,"v":-2.15},{"series":"Summed partially matching nontargets","t":283,"v":-1.85},{"series":"Summed partially matching nontargets","t":286,"v":-1.62},{"series":"Summed partially matching nontargets","t":291,"v":-1.3},{"series":"Summed partially matching nontargets","t":296,"v":-1.0},{"series":"Summed partially matching nontargets","t":303,"v":-0.62},{"series":"Summed partially matching nontargets","t":310,"v":-0.25},{"series":"Summed partially matching nontargets","t":316,"v":0.05},{"series":"Summed partially matching nontargets","t":322,"v":0.15},{"series":"Summed partially matching nontargets","t":330,"v":0.12},{"series":"Summed partially matching nontargets","t":340,"v":0.05},{"series":"Summed partially matching nontargets","t":350,"v":0.05},
{"series":"ShapeMNT","t":-100,"v":0.64},{"series":"ShapeMNT","t":-98,"v":0.36},{"series":"ShapeMNT","t":-93,"v":0.0},{"series":"ShapeMNT","t":-89,"v":-0.25},{"series":"ShapeMNT","t":-80,"v":-0.36},{"series":"ShapeMNT","t":-70,"v":-0.27},{"series":"ShapeMNT","t":-63,"v":-0.2},{"series":"ShapeMNT","t":-56,"v":-0.3},{"series":"ShapeMNT","t":-49,"v":-0.2},{"series":"ShapeMNT","t":-43,"v":0.12},{"series":"ShapeMNT","t":-39,"v":0.28},{"series":"ShapeMNT","t":-34,"v":0.23},{"series":"ShapeMNT","t":-27,"v":0.2},{"series":"ShapeMNT","t":-22,"v":0.23},{"series":"ShapeMNT","t":-15,"v":0.28},{"series":"ShapeMNT","t":-8,"v":0.02},{"series":"ShapeMNT","t":0,"v":-0.2},{"series":"ShapeMNT","t":7,"v":-0.21},{"series":"ShapeMNT","t":17,"v":-0.09},{"series":"ShapeMNT","t":25,"v":0.07},{"series":"ShapeMNT","t":32,"v":-0.06},{"series":"ShapeMNT","t":38,"v":-0.17},{"series":"ShapeMNT","t":46,"v":-0.04},{"series":"ShapeMNT","t":53,"v":0.12},{"series":"ShapeMNT","t":63,"v":0.09},{"series":"ShapeMNT","t":70,"v":0.07},{"series":"ShapeMNT","t":80,"v":-0.04},{"series":"ShapeMNT","t":87,"v":-0.04},{"series":"ShapeMNT","t":97,"v":0.04},{"series":"ShapeMNT","t":107,"v":0.04},{"series":"ShapeMNT","t":114,"v":-0.06},{"series":"ShapeMNT","t":121,"v":-0.12},{"series":"ShapeMNT","t":131,"v":-0.17},{"series":"ShapeMNT","t":140,"v":-0.2},{"series":"ShapeMNT","t":148,"v":-0.3},{"series":"ShapeMNT","t":155,"v":-0.15},{"series":"ShapeMNT","t":162,"v":0.05},{"series":"ShapeMNT","t":170,"v":0.05},{"series":"ShapeMNT","t":180,"v":-0.15},{"series":"ShapeMNT","t":188,"v":-0.3},{"series":"ShapeMNT","t":198,"v":-0.5},{"series":"ShapeMNT","t":206,"v":-0.68},{"series":"ShapeMNT","t":212,"v":-0.85},{"series":"ShapeMNT","t":218,"v":-1.04},{"series":"ShapeMNT","t":224,"v":-1.18},{"series":"ShapeMNT","t":228,"v":-1.25},{"series":"ShapeMNT","t":233,"v":-1.26},{"series":"ShapeMNT","t":237,"v":-1.28},{"series":"ShapeMNT","t":241,"v":-1.38},{"series":"ShapeMNT","t":245,"v":-1.44},{"series":"ShapeMNT","t":250,"v":-1.32},{"series":"ShapeMNT","t":255,"v":-1.15},{"series":"ShapeMNT","t":259,"v":-1.09},{"series":"ShapeMNT","t":266,"v":-1.04},{"series":"ShapeMNT","t":272,"v":-1.08},{"series":"ShapeMNT","t":277,"v":-1.15},{"series":"ShapeMNT","t":281,"v":-0.93},{"series":"ShapeMNT","t":286,"v":-0.57},{"series":"ShapeMNT","t":293,"v":-0.3},{"series":"ShapeMNT","t":300,"v":-0.05},{"series":"ShapeMNT","t":308,"v":0.1},{"series":"ShapeMNT","t":316,"v":0.12},{"series":"ShapeMNT","t":325,"v":0.05},{"series":"ShapeMNT","t":335,"v":0.0},{"series":"ShapeMNT","t":345,"v":0.05},{"series":"ShapeMNT","t":350,"v":0.1},
{"series":"CatMNT","t":-100,"v":-0.05},{"series":"CatMNT","t":-98,"v":-0.04},{"series":"CatMNT","t":-93,"v":-0.3},{"series":"CatMNT","t":-87,"v":-0.22},{"series":"CatMNT","t":-82,"v":-0.14},{"series":"CatMNT","t":-75,"v":0.02},{"series":"CatMNT","t":-70,"v":0.17},{"series":"CatMNT","t":-65,"v":0.15},{"series":"CatMNT","t":-60,"v":0.04},{"series":"CatMNT","t":-53,"v":-0.04},{"series":"CatMNT","t":-46,"v":-0.01},{"series":"CatMNT","t":-39,"v":0.12},{"series":"CatMNT","t":-32,"v":0.1},{"series":"CatMNT","t":-24,"v":0.12},{"series":"CatMNT","t":-17,"v":0.02},{"series":"CatMNT","t":-10,"v":-0.01},{"series":"CatMNT","t":-2,"v":-0.09},{"series":"CatMNT","t":5,"v":-0.17},{"series":"CatMNT","t":15,"v":-0.17},{"series":"CatMNT","t":22,"v":-0.14},{"series":"CatMNT","t":29,"v":-0.09},{"series":"CatMNT","t":36,"v":-0.04},{"series":"CatMNT","t":44,"v":-0.04},{"series":"CatMNT","t":51,"v":-0.17},{"series":"CatMNT","t":58,"v":-0.04},{"series":"CatMNT","t":68,"v":0.04},{"series":"CatMNT","t":77,"v":0.02},{"series":"CatMNT","t":87,"v":-0.01},{"series":"CatMNT","t":97,"v":0.0},{"series":"CatMNT","t":104,"v":-0.04},{"series":"CatMNT","t":114,"v":-0.06},{"series":"CatMNT","t":121,"v":-0.12},{"series":"CatMNT","t":131,"v":-0.09},{"series":"CatMNT","t":140,"v":-0.1},{"series":"CatMNT","t":150,"v":-0.15},{"series":"CatMNT","t":160,"v":-0.05},{"series":"CatMNT","t":170,"v":0.0},{"series":"CatMNT","t":180,"v":-0.1},{"series":"CatMNT","t":190,"v":-0.25},{"series":"CatMNT","t":200,"v":-0.4},{"series":"CatMNT","t":210,"v":-0.52},{"series":"CatMNT","t":221,"v":-0.65},{"series":"CatMNT","t":230,"v":-0.78},{"series":"CatMNT","t":240,"v":-0.92},{"series":"CatMNT","t":250,"v":-1.09},{"series":"CatMNT","t":259,"v":-1.15},{"series":"CatMNT","t":264,"v":-1.25},{"series":"CatMNT","t":268,"v":-1.33},{"series":"CatMNT","t":271,"v":-1.25},{"series":"CatMNT","t":274,"v":-1.15},{"series":"CatMNT","t":278,"v":-1.05},{"series":"CatMNT","t":281,"v":-1.0},{"series":"CatMNT","t":286,"v":-1.0},{"series":"CatMNT","t":291,"v":-1.0},{"series":"CatMNT","t":298,"v":-0.68},{"series":"CatMNT","t":305,"v":-0.4},{"series":"CatMNT","t":311,"v":-0.1},{"series":"CatMNT","t":318,"v":0.0},{"series":"CatMNT","t":326,"v":-0.05},{"series":"CatMNT","t":335,"v":0.05},{"series":"CatMNT","t":345,"v":0.1},{"series":"CatMNT","t":350,"v":0.08}
]
},
"spacing": 40,
"resolve": {"scale": {"strokeDash": "independent", "color": "independent"}, "legend": {"strokeDash": "independent", "color": "independent"}},
"vconcat": [
{
 "bounds": "flush",
 "spacing": 188,
 "resolve": {"scale": {"strokeDash": "independent"}, "legend": {"strokeDash": "independent"}},
 "title": {"text": "Competition trials - Horizontal targets", "anchor": "middle", "frame": "bounds", "font": "Liberation Sans", "fontSize": 26, "fontWeight": "bold", "color": "#000", "baseline": "alphabetic", "offset": 2.3, "dx": 43},
 "hconcat": [
  {
   "width": 304, "height": 307,
   "title": {"text": "T&shapeMNT", "font": "Lato", "fontSize": 22, "fontWeight": "bold", "color": "#111", "anchor": "middle", "baseline": "alphabetic", "offset": -13.84, "dx": 0},
   "encoding": {
    "x": {"field": "t", "type": "quantitative", "scale": {"domain": [-100, 350], "nice": false, "zero": false},
      "axis": {"title": null, "orient": "bottom", "offset": -153.5, "values": [-100, 100, 200, 300, 350], "domainColor": "#8b4a2b", "tickColor": "#8b4a2b", "tickSize": 4, "tickOpacity": {"condition": {"test": "datum.value === 350", "value": 0}, "value": 1}, "labelExpr": "datum.value === 350 ? '350ms' : ''", "labelAlign": "left", "labelBaseline": "middle", "labelPadding": 7, "labelDx": 1}},
    "y": {"field": "v", "type": "quantitative", "scale": {"domain": [-10, 10], "reverse": true, "nice": false, "zero": false},
      "axis": {"title": null, "orient": "left", "offset": -67.56, "values": [-10, -5, 0, 5, 10], "domainColor": "#4d6b6b", "tickColor": "#4d6b6b", "tickSize": 5, "labelPadding": 5, "labelBaseline": "middle", "labelExpr": "datum.value === -10 ? '-10µV' : datum.value === 10 ? '10µV' : ''"}}
   },
   "layer": [
    {"data": {"name": "erp"}, "transform": [{"filter": "datum.panel === 'p1'"}],
     "mark": {"type": "line", "color": "#111", "strokeWidth": 2.2, "interpolate": "monotone"},
     "encoding": {"strokeDash": {"field": "side", "type": "nominal", "scale": {"domain": ["Contralateral", "Ipsilateral"], "range": [[1, 0], [20, 4]]}, "legend": null}}},
    {"data": {"values": [{"t": 225, "v": 7.1, "label": "N2pc"}]},
     "mark": {"type": "text", "font": "Lato", "fontSize": 22, "fontWeight": "bold", "color": "#111", "baseline": "middle", "align": "center"},
     "encoding": {"text": {"field": "label"}}}
   ]
  },
  {
   "width": 304, "height": 307,
   "title": {"text": "T&catMNT", "font": "Lato", "fontSize": 22, "fontWeight": "bold", "color": "#111", "anchor": "middle", "baseline": "alphabetic", "offset": -10.84, "dx": 4},
   "encoding": {
    "x": {"field": "t", "type": "quantitative", "scale": {"domain": [-100, 350], "nice": false, "zero": false},
      "axis": {"title": null, "orient": "bottom", "offset": -153.5, "values": [-100, 100, 200, 300, 350], "domainColor": "#3f6262", "tickColor": "#3f6262", "tickSize": 4, "tickOpacity": {"condition": {"test": "datum.value === 350", "value": 0}, "value": 1}, "labelExpr": "datum.value === 350 ? '350ms' : ''", "labelAlign": "left", "labelBaseline": "middle", "labelPadding": 7, "labelDx": 1}},
    "y": {"field": "v", "type": "quantitative", "scale": {"domain": [-10, 10], "reverse": true, "nice": false, "zero": false},
      "axis": {"title": null, "orient": "left", "offset": -67.56, "values": [-10, -5, 0, 5, 10], "domainColor": "#6b5450", "tickColor": "#6b5450", "tickSize": 5, "labelPadding": 5, "labelBaseline": "middle", "labelExpr": "datum.value === -10 ? '-10µV' : datum.value === 10 ? '10µV' : ''"}}
   },
   "layer": [
    {"data": {"name": "erp"}, "transform": [{"filter": "datum.panel === 'p2'"}],
     "mark": {"type": "line", "color": "#111", "strokeWidth": 2.2, "interpolate": "monotone"},
     "encoding": {"strokeDash": {"field": "side", "type": "nominal", "scale": {"domain": ["Contralateral", "Ipsilateral"], "range": [[1, 0], [12, 6]]}, "legend": null}}},
    {"data": {"values": [{"t": 225, "v": 7.4, "label": "N2pc"}]},
     "mark": {"type": "text", "font": "Lato", "fontSize": 22, "fontWeight": "bold", "color": "#111", "baseline": "middle", "align": "center"},
     "encoding": {"text": {"field": "label"}}}
   ]
  }
 ]
},
{
 "spacing": 28,
 "resolve": {"scale": {"strokeDash": "independent", "color": "independent"}, "legend": {"strokeDash": "independent", "color": "independent"}},
 "vconcat": [
  {
   "bounds": "flush",
   "spacing": 188,
   "resolve": {"scale": {"strokeDash": "independent"}, "legend": {"strokeDash": "independent"}},
   "title": {"text": "Competition trials - Horizontal partially matching nontargets", "anchor": "middle", "frame": "bounds", "font": "Liberation Sans", "fontSize": 29, "fontWeight": "bold", "color": "#000", "baseline": "alphabetic", "offset": -0.8, "dx": -2},
   "hconcat": [
    {
     "width": 304, "height": 304,
     "title": {"text": "shapeMNT&T", "font": "Lato", "fontSize": 22, "fontWeight": "bold", "color": "#111", "anchor": "middle", "baseline": "alphabetic", "offset": -8.54, "dx": 12},
     "encoding": {
      "x": {"field": "t", "type": "quantitative", "scale": {"domain": [-100, 350], "nice": false, "zero": false},
        "axis": {"title": null, "orient": "bottom", "offset": -152, "values": [-100, 100, 200, 300, 350], "domainColor": "#8b4a2b", "tickColor": "#8b4a2b", "tickSize": 4, "tickOpacity": {"condition": {"test": "datum.value === 350", "value": 0}, "value": 1}, "labelExpr": "datum.value === 350 ? '350ms' : ''", "labelAlign": "left", "labelBaseline": "middle", "labelPadding": 7, "labelDx": 1}},
      "y": {"field": "v", "type": "quantitative", "scale": {"domain": [-10, 10], "reverse": true, "nice": false, "zero": false},
        "axis": {"title": null, "orient": "left", "offset": -67.56, "values": [-10, -5, 0, 5, 10], "domainColor": "#6e6e6e", "tickColor": "#6e6e6e", "tickSize": 5, "labelPadding": 5, "labelBaseline": "middle", "labelExpr": "datum.value === -10 ? '-10µV' : datum.value === 10 ? '10µV' : ''"}}
     },
     "layer": [
      {"data": {"name": "erp"}, "transform": [{"filter": "datum.panel === 'p3'"}],
       "mark": {"type": "line", "color": "#111", "strokeWidth": 2.2, "interpolate": "monotone"},
       "encoding": {"strokeDash": {"field": "side", "type": "nominal", "scale": {"domain": ["Contralateral", "Ipsilateral"], "range": [[1, 0], [12, 5]]}, "legend": null}}},
      {"data": {"values": [{"t": 220, "v": 7.4, "label": "N2pc"}]},
       "mark": {"type": "text", "font": "Lato", "fontSize": 22, "fontWeight": "bold", "color": "#111", "baseline": "middle", "align": "center"},
       "encoding": {"text": {"field": "label"}}}
     ]
    },
    {
     "width": 304, "height": 304,
     "title": {"text": "catMNT&T", "font": "Lato", "fontSize": 22, "fontWeight": "bold", "color": "#111", "anchor": "middle", "baseline": "alphabetic", "offset": -4.84, "dx": 25},
     "encoding": {
      "x": {"field": "t", "type": "quantitative", "scale": {"domain": [-100, 350], "nice": false, "zero": false},
        "axis": {"title": null, "orient": "bottom", "offset": -152, "values": [-100, 100, 200, 300, 350], "domainColor": "#6b3a2a", "tickColor": "#6b3a2a", "tickSize": 4, "tickOpacity": {"condition": {"test": "datum.value === 350", "value": 0}, "value": 1}, "labelExpr": "datum.value === 350 ? '350ms' : ''", "labelAlign": "left", "labelBaseline": "middle", "labelPadding": 7, "labelDx": 1}},
      "y": {"field": "v", "type": "quantitative", "scale": {"domain": [-10, 10], "reverse": true, "nice": false, "zero": false},
        "axis": {"title": null, "orient": "left", "offset": -67.56, "values": [-10, -5, 0, 5, 10], "domainColor": "#3f6868", "tickColor": "#3f6868", "tickSize": 5, "labelPadding": 5, "labelBaseline": "middle", "labelExpr": "datum.value === -10 ? '-10µV' : datum.value === 10 ? '10µV' : ''"}}
     },
     "layer": [
      {"data": {"name": "erp"}, "transform": [{"filter": "datum.panel === 'p4'"}],
       "mark": {"type": "line", "color": "#111", "strokeWidth": 2.2, "interpolate": "monotone"},
       "encoding": {"strokeDash": {"field": "side", "type": "nominal", "scale": {"domain": ["Contralateral", "Ipsilateral"], "range": [[1, 0], [12, 6]]},
         "legend": {"orient": "none", "legendX": 131, "legendY": 301, "title": null, "direction": "vertical", "symbolType": "M-10,0H10", "symbolSize": 100, "symbolStrokeWidth": 2, "symbolStrokeColor": "#111", "symbolFillColor": "transparent", "labelFontSize": 16, "labelFont": "Liberation Sans", "labelColor": "#111", "labelOffset": 65, "rowPadding": 7, "padding": 0, "labelLimit": 300}}}},
      {"data": {"values": [{"t": 228, "v": 7.6, "label": "N2pc"}]},
       "mark": {"type": "text", "font": "Lato", "fontSize": 22, "fontWeight": "bold", "color": "#111", "baseline": "middle", "align": "center"},
       "encoding": {"text": {"field": "label"}}}
     ]
    }
   ]
  },
  {
   "bounds": "flush",
   "spacing": 40,
   "resolve": {"scale": {"strokeDash": "independent", "color": "independent"}, "legend": {"strokeDash": "independent", "color": "independent"}},
   "hconcat": [
    {"width": 100, "height": 10, "data": {"values": [{}]}, "mark": {"type": "point", "opacity": 0}},
    {
     "width": 618, "height": 443,
     "title": {"text": "N2pc Difference Waves", "font": "Liberation Sans", "fontSize": 24, "fontWeight": "bold", "color": "#000", "anchor": "middle", "frame": "group", "baseline": "alphabetic", "offset": 0, "dx": 11, "dy": 74.4},
     "encoding": {
      "x": {"field": "t", "type": "quantitative", "scale": {"domain": [-100, 350], "nice": false, "zero": false},
        "axis": {"title": null, "orient": "bottom", "offset": -126.57, "values": [100, 200, 300, 350], "domainColor": "#111", "tickColor": "#111", "tickSize": 4, "tickOpacity": {"condition": {"test": "datum.value === 350", "value": 0}, "value": 1}, "labelExpr": "datum.value === 350 ? '350ms' : ''", "labelAlign": "left", "labelBaseline": "middle", "labelPadding": 7, "labelDx": 2}},
      "y": {"field": "v", "type": "quantitative", "scale": {"domain": [-5, 2], "reverse": true, "nice": false, "zero": false},
        "axis": {"title": null, "orient": "left", "offset": -137.33, "values": [-5, -4, -3, -2, -1, 0, 1, 2], "domainColor": "#111", "tickColor": "#111", "tickSize": 5, "labelPadding": 8, "labelBaseline": "middle", "labelExpr": "datum.value === -5 ? '-5µV' : datum.value === 2 ? '2µV' : ''"}}
     },
     "layer": [
      {"data": {"name": "diff"},
       "mark": {"type": "line", "strokeWidth": 2.2, "interpolate": "monotone"},
       "encoding": {
        "color": {"field": "series", "type": "nominal", "scale": {"domain": ["Targets", "Summed partially matching nontargets", "ShapeMNT", "CatMNT"], "range": ["#111111", "#3d6fcc", "#3d6fcc", "#ff5040"]},
          "legend": {"orient": "none", "legendX": 200, "legendY": 353, "title": null, "direction": "vertical", "symbolType": "M-4,0H4", "symbolSize": 100, "symbolStrokeWidth": 2.4, "symbolFillColor": "transparent", "labelFontSize": 16, "labelFont": "Liberation Sans", "labelColor": "#111", "labelOffset": 21, "rowPadding": 5.7, "padding": 0, "labelLimit": 400}},
        "strokeDash": {"field": "series", "type": "nominal", "scale": {"domain": ["Targets", "Summed partially matching nontargets", "ShapeMNT", "CatMNT"], "range": [[1, 0], [1, 0], [9, 6], [2.5, 4.5]]},
          "legend": {"orient": "none", "legendX": 200, "legendY": 353, "title": null, "direction": "vertical", "symbolType": "M-4,0H4", "symbolSize": 100, "symbolStrokeWidth": 2.4, "symbolFillColor": "transparent", "labelFontSize": 16, "labelFont": "Liberation Sans", "labelColor": "#111", "labelOffset": 21, "rowPadding": 5.7, "padding": 0, "labelLimit": 400}}
       }},
      {"data": {"name": "diff"}, "transform": [{"filter": "datum.series === 'Summed partially matching nontargets'"}],
       "mark": {"type": "line", "color": "#ff5040", "strokeWidth": 2.2, "strokeDash": [5, 16], "interpolate": "monotone"}}
     ]
    }
   ]
  }
 ]
}
]
}
